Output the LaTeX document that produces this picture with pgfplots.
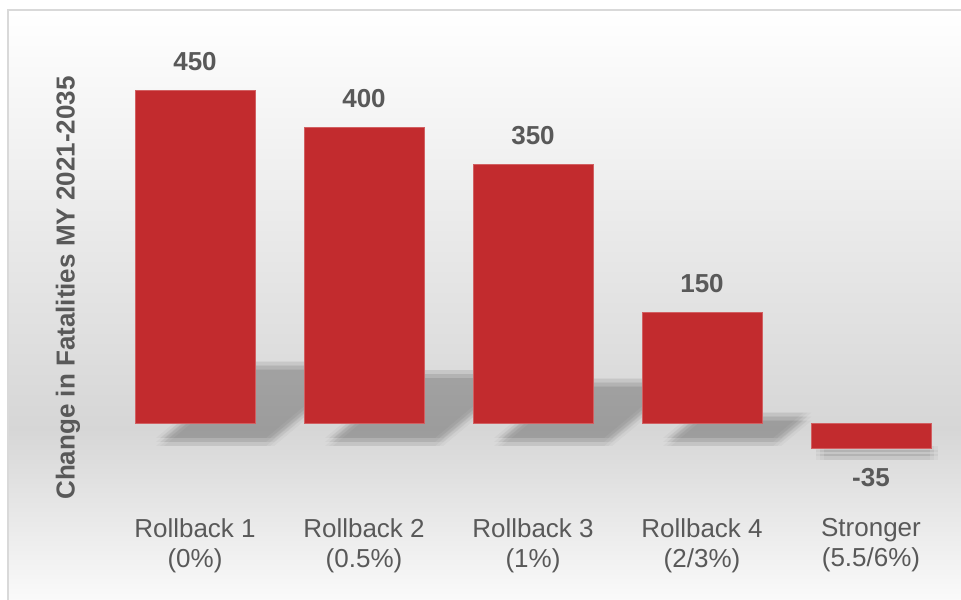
\documentclass[border=0pt]{standalone}
\usepackage{pgfplots}
\pgfplotsset{compat=1.18}
\usepackage{fontspec}
\setmainfont{Liberation Sans}
\definecolor{barred}{HTML}{C22B2E}
\definecolor{txtgray}{HTML}{595959}
\pgfdeclareverticalshading{bgshade}{100bp}{color(0bp)=(black!2); color(25bp)=(black!2); color(39.5bp)=(black!16); color(75bp)=(white); color(100bp)=(white)}
\pgfplotsset{shadowstyle/.style={draw=none, fill=black, fill opacity=0.03, forget plot}}
\newcommand{\shadowset}[1]{%
  \addplot[shadowstyle, xshift=-3pt, yshift=-3pt] coordinates {#1} -- cycle;
  \addplot[shadowstyle, xshift=0pt, yshift=-3pt] coordinates {#1} -- cycle;
  \addplot[shadowstyle, xshift=3pt, yshift=-3pt] coordinates {#1} -- cycle;
  \addplot[shadowstyle, xshift=-3pt, yshift=0pt] coordinates {#1} -- cycle;
  \addplot[shadowstyle] coordinates {#1} -- cycle;
  \addplot[shadowstyle, xshift=3pt, yshift=0pt] coordinates {#1} -- cycle;
  \addplot[shadowstyle, xshift=-3pt, yshift=3pt] coordinates {#1} -- cycle;
  \addplot[shadowstyle, xshift=0pt, yshift=3pt] coordinates {#1} -- cycle;
  \addplot[shadowstyle, xshift=3pt, yshift=3pt] coordinates {#1} -- cycle;
}
\begin{document}
\begin{tikzpicture}
\path[use as bounding box] (0,0) rectangle (720.75pt,450pt);
\shade[shading=bgshade] (6pt,0) rectangle (720.75pt,442.5pt);
\draw[color=black!15, line width=1.2pt] (6pt,0) -- (6pt,442.5pt) -- (720.75pt,442.5pt);
\begin{axis}[
  at={(70.2pt,77.4pt)}, anchor=south west,
  scale only axis, width=633.75pt, height=332.1pt,
  xmin=-0.6, xmax=4.4, ymin=-100, ymax=500,
  axis line style={draw=none},
  ytick=\empty,
  xtick={0,1,2,3,4},
  xticklabels={{Rollback 1\\(0\%)},{Rollback 2\\(0.5\%)},{Rollback 3\\(1\%)},{Rollback 4\\(2/3\%)},{Stronger\\(5.5/6\%)}},
  major tick length=0pt,
  xticklabel style={align=center, text=txtgray, font=\fontsize{19.5}{22.5}\selectfont, yshift=-13pt},
  ylabel={Change in Fatalities MY 2021-2035},
  ylabel style={at={(axis description cs:-0.0303,0.4715)}, anchor=center, text=txtgray, font=\fontsize{19.5}{22}\selectfont\bfseries},
  clip=false,
]
% shadows
\shadowset{(-0.207,-25.7) (0.444,-25.7) (0.986,77.8) (0.335,77.8)}
\shadowset{(0.793,-25.7) (1.444,-25.7) (1.926,66.3) (1.275,66.3)}
\shadowset{(1.793,-25.7) (2.444,-25.7) (2.866,54.8) (2.215,54.8)}
\shadowset{(2.793,-25.7) (3.444,-25.7) (3.625,8.8) (2.974,8.8)}
\shadowset{(3.70,-45) (4.37,-45) (4.37,-36) (3.70,-36)}
% bars
\addplot[ybar, bar width=0.71, bar shift=0pt, fill=barred, draw=barred!75!white, line width=0.6pt,
  point meta=explicit symbolic, nodes near coords,
  every node near coord/.append style={anchor=south, text=txtgray, font=\fontsize{19.5}{22}\selectfont\bfseries, inner ysep=14.5pt}]
  coordinates {(0,450)[450] (1,400)[400] (2,350)[350] (3,150)[150]};
\addplot[ybar, bar width=0.71, bar shift=0pt, fill=barred, draw=barred!75!white, line width=0.6pt,
  point meta=explicit symbolic, nodes near coords,
  every node near coord/.append style={anchor=north, text=txtgray, font=\fontsize{19.5}{22}\selectfont\bfseries, inner ysep=14.5pt}]
  coordinates {(4,-35)[-35]};
\end{axis}
\end{tikzpicture}
\end{document}
